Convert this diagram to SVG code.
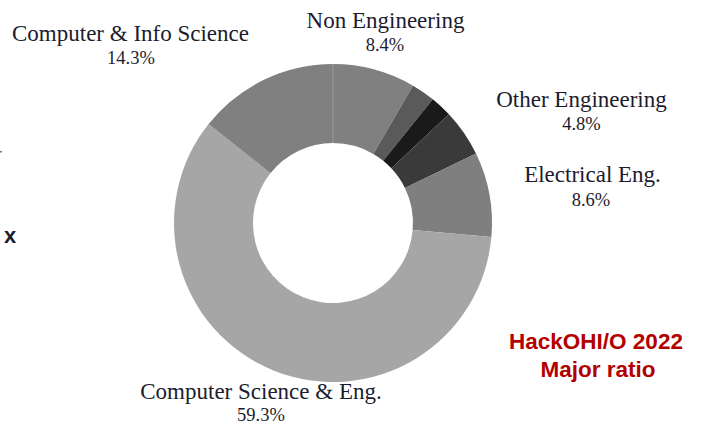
<svg xmlns="http://www.w3.org/2000/svg" width="704" height="426" viewBox="0 0 704 426">
<style>
.lbl{font-family:"Liberation Serif","Times New Roman",serif;font-size:23px;fill:#1c1c2e;text-anchor:middle}
.pct{font-family:"Liberation Serif","Times New Roman",serif;font-size:18.5px;fill:#1c1c2e;text-anchor:middle}
.title{font-family:"Liberation Sans",Arial,sans-serif;font-weight:bold;font-size:22.5px;fill:#b30000;text-anchor:middle}
</style>
<rect width="704" height="426" fill="#ffffff"/>
<g id="connectors"></g>
<g id="slice-non-engineering">
<path d="M333,64 A159,159 0 0 1 413.07,85.64 L373.29,153.89 A80,80 0 0 0 333,143 Z" fill="#808080"/>
</g>
<g id="slice-small-1">
<path d="M413.07,85.64 A159,159 0 0 1 432.80,99.22 L383.22,160.72 A80,80 0 0 0 373.29,153.89 Z" fill="#5a5a5a"/>
</g>
<g id="slice-small-2">
<path d="M432.80,99.22 A159,159 0 0 1 448.91,114.16 L391.32,168.24 A80,80 0 0 0 383.22,160.72 Z" fill="#1a1a1a"/>
</g>
<g id="slice-other-engineering">
<path d="M448.91,114.16 A159,159 0 0 1 476.00,153.50 L404.95,188.03 A80,80 0 0 0 391.32,168.24 Z" fill="#3a3a3a"/>
</g>
<g id="slice-electrical">
<path d="M476.00,153.50 A159,159 0 0 1 491.38,236.97 L412.69,230.03 A80,80 0 0 0 404.95,188.03 Z" fill="#7f7f7f"/>
</g>
<g id="slice-cse">
<path d="M491.38,236.97 A159,159 0 1 1 208.60,123.98 L270.41,173.18 A80,80 0 1 0 412.69,230.03 Z" fill="#a6a6a6"/>
</g>
<g id="slice-cis">
<path d="M208.60,123.98 A159,159 0 0 1 333,64 L333,143 A80,80 0 0 0 270.41,173.18 Z" fill="#808080"/>
</g>
<line x1="333" y1="64" x2="333" y2="143" stroke="#9c9c9c" stroke-width="1"/>
<g id="label-non-engineering">
<text class="lbl" x="385.5" y="28">Non Engineering</text>
<text class="pct" x="385" y="51">8.4%</text>
</g>
<g id="label-cis">
<text class="lbl" x="130.5" y="41">Computer &amp; Info Science</text>
<text class="pct" x="131" y="64">14.3%</text>
</g>
<g id="label-other-engineering">
<text class="lbl" x="581.5" y="107">Other Engineering</text>
<text class="pct" x="581.5" y="130">4.8%</text>
</g>
<g id="label-electrical">
<text class="lbl" x="592.5" y="182">Electrical Eng.</text>
<text class="pct" x="591" y="206">8.6%</text>
</g>
<g id="label-cse">
<text class="lbl" x="261" y="399">Computer Science &amp; Eng.</text>
<text class="pct" x="261" y="421">59.3%</text>
</g>
<g id="title">
<text class="title" x="596" y="349">HackOHI/O 2022</text>
<text class="title" x="598" y="377">Major ratio</text>
</g>
<text x="4" y="243" font-family="Liberation Sans,Arial,sans-serif" font-weight="bold" font-size="22" fill="#1c1c2e">x</text>
<rect x="0" y="151" width="2" height="1.5" fill="#777777"/>
</svg>
